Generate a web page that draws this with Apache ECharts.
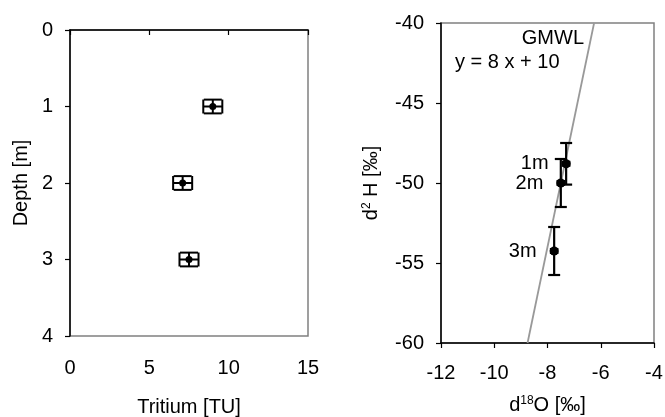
<!DOCTYPE html>
<html><head><meta charset="utf-8">
<script src="https://cdn.jsdelivr.net/npm/echarts@6/dist/echarts.min.js"></script>
<style>html,body{margin:0;padding:0;background:#fff}#c{width:665px;height:417px}</style>
</head><body><div id="c"></div>
<script>
// ---- data ----
const depth = [1, 2, 3];
const tritium = [9.0, 7.1, 7.5];
const tritiumErr = [0.6, 0.6, 0.6];
const depthErr = [0.09, 0.09, 0.09];
const sampleLabels = ['1m', '2m', '3m'];
const d18O = [-7.3, -7.5, -7.75];
const d18OErr = [0.12, 0.12, 0.12];
const d2H = [-48.8, -50.0, -54.25];
const d2HErr = [1.3, 1.5, 1.5];
const gmwlX = [-8.75, -6.25];
const gmwlY = [-60, -40];
const gmwlName = 'GMWL';
const gmwlEq = 'y = 8 x + 10';

const FONT = 'Liberation Sans, Arial, sans-serif';
const FS = 20;

function errRender(capX, capY, lw) {
  return function (params, api) {
    const x = api.value(0), y = api.value(1), ex = api.value(2), ey = api.value(3);
    const c = api.coord([x, y]);
    const l = api.coord([x - ex, y]), r = api.coord([x + ex, y]);
    const t = api.coord([x, y + ey]), b = api.coord([x, y - ey]);
    const style = { stroke: '#000', lineWidth: lw };
    const segs = [
      [l[0], c[1], r[0], c[1]],
      [l[0], c[1] - capX, l[0], c[1] + capX],
      [r[0], c[1] - capX, r[0], c[1] + capX],
      [c[0], t[1], c[0], b[1]],
      [c[0] - capY, t[1], c[0] + capY, t[1]],
      [c[0] - capY, b[1], c[0] + capY, b[1]]
    ];
    return { type: 'group', children: segs.map(p => ({ type: 'line', shape: { x1: p[0], y1: p[1], x2: p[2], y2: p[3] }, style })) };
  };
}

const axisLbl = { color: '#000', fontSize: FS, fontFamily: FONT };
const axLine = { show: true, lineStyle: { color: '#000', width: 1.5 } };
const axTick = { show: true, inside: false, length: 5, lineStyle: { color: '#000', width: 1.2 } };

const chart = echarts.init(document.getElementById('c'), null, { renderer: 'canvas' });
chart.setOption({
  animation: false,
  backgroundColor: '#fff',
  grid: [
    { left: 70, top: 30, width: 238, height: 306, show: true, borderColor: '#808080', borderWidth: 1.5, backgroundColor: 'transparent', containLabel: false, outerBoundsMode: 'none' },
    { left: 441, top: 23, width: 213, height: 320, show: true, borderColor: '#808080', borderWidth: 1.5, backgroundColor: 'transparent', containLabel: false, outerBoundsMode: 'none' }
  ],
  xAxis: [
    { gridIndex: 0, type: 'value', min: 0, max: 15, interval: 5, axisLine: axLine, axisTick: axTick,
      splitLine: { show: false }, axisLabel: Object.assign({ margin: 22 }, axisLbl),
      name: 'Tritium [TU]', nameLocation: 'middle', nameGap: 61, nameTextStyle: axisLbl },
    { gridIndex: 1, type: 'value', min: -12, max: -4, interval: 2, axisLine: axLine, axisTick: axTick,
      splitLine: { show: false }, axisLabel: Object.assign({ margin: 20 }, axisLbl),
      name: '{a|d}{s|18}{a|O [‰]}', nameLocation: 'middle', nameGap: 52,
      nameTextStyle: { rich: { a: { fontSize: FS, fontFamily: FONT, color: '#000' }, s: { fontSize: 12, fontFamily: FONT, color: '#000', verticalAlign: 'top', padding: [0, 0, 8, 0] } } } }
  ],
  yAxis: [
    { gridIndex: 0, type: 'value', min: 0, max: 4, interval: 1, inverse: true, axisLine: axLine, axisTick: axTick,
      splitLine: { show: false }, axisLabel: Object.assign({ margin: 17 }, axisLbl),
      name: 'Depth [m]', nameLocation: 'middle', nameGap: 39, nameTextStyle: axisLbl },
    { gridIndex: 1, type: 'value', min: -60, max: -40, interval: 5, axisLine: axLine, axisTick: axTick,
      splitLine: { show: false }, axisLabel: Object.assign({ margin: 17 }, axisLbl),
      name: '{a|d}{s|2}{a| H [‰]}', nameLocation: 'middle', nameGap: 60,
      nameTextStyle: { rich: { a: { fontSize: FS, fontFamily: FONT, color: '#000' }, s: { fontSize: 12, fontFamily: FONT, color: '#000', padding: [0, 0, 8, 0] } } } }
  ],
  series: [
    { type: 'custom', xAxisIndex: 0, yAxisIndex: 0, renderItem: errRender(7, 9, 2),
      data: tritium.map((v, i) => [v, depth[i], tritiumErr[i], depthErr[i]]), z: 3 },
    { type: 'scatter', xAxisIndex: 0, yAxisIndex: 0, symbol: 'circle', symbolSize: 7,
      itemStyle: { color: '#000', opacity: 1 }, data: tritium.map((v, i) => [v, depth[i]]), z: 4 },
    { type: 'line', xAxisIndex: 1, yAxisIndex: 1, showSymbol: false, symbol: 'none',
      lineStyle: { color: '#999', width: 1.8 }, data: gmwlX.map((v, i) => [v, gmwlY[i]]), z: 2 },
    { type: 'custom', xAxisIndex: 1, yAxisIndex: 1, renderItem: errRender(3, 6, 2.2),
      data: d18O.map((v, i) => [v, d2H[i], d18OErr[i], d2HErr[i]]), z: 3 },
    { type: 'scatter', xAxisIndex: 1, yAxisIndex: 1, symbol: 'circle', symbolSize: 9,
      itemStyle: { color: '#000', opacity: 1 },
      label: { show: true, position: 'left', distance: 13, color: '#000', opacity: 1, fontSize: FS, fontFamily: FONT,
        formatter: p => sampleLabels[p.dataIndex] },
      data: d18O.map((v, i) => [v, d2H[i]]), z: 4 }
  ],
  graphic: [
    { type: 'text', right: 665 - 584, top: 28, style: { text: gmwlName, fill: '#000', font: FS + 'px ' + FONT } },
    { type: 'text', left: 455, top: 52, style: { text: gmwlEq, fill: '#000', font: FS + 'px ' + FONT } }
  ]
});
</script></body></html>
